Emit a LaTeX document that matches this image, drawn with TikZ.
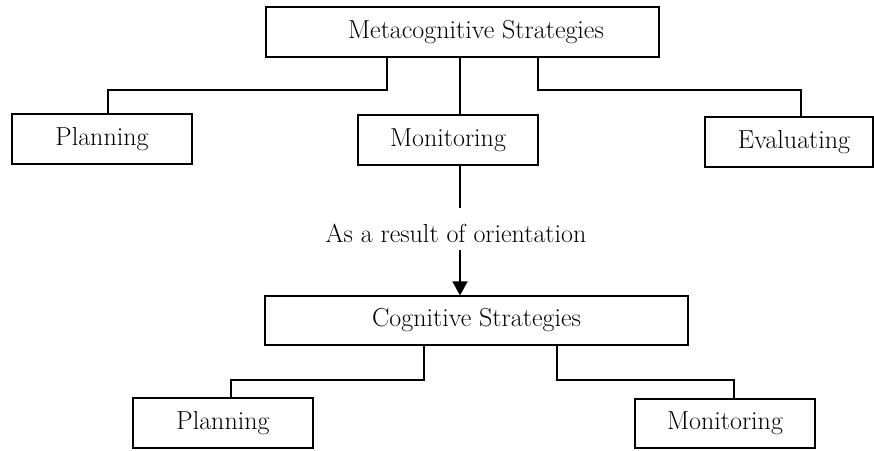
\documentclass[tikz,border=0pt]{standalone}
\usetikzlibrary{arrows.meta,calc}
\begin{document}
\begin{tikzpicture}[x=1pt,y=-1pt,
  box/.style={draw,line width=1.2pt,inner sep=0pt,minimum height=50pt,
    font=\fontsize{26}{30}\selectfont},
  conn/.style={line width=1.8pt},
  arr/.style={line width=1.8pt,-{Triangle[width=15pt,length=14pt]}},
  lbl/.style={font=\fontsize{26}{30}\selectfont,inner sep=0pt}]
\useasboundingbox (0,0) rectangle (874,450);

% upper level
\node[box,minimum width=393pt,
  label={[lbl,xshift=13.5pt]center:Metacognitive Strategies}] (meta) at (462.5,32) {};
\node[box,minimum width=180pt] (plan1) at (102,139) {Planning};
\node[box,minimum width=180pt] (mon1) at (448,140) {Monitoring};
\node[box,minimum width=168pt,
  label={[lbl,xshift=5pt]center:Evaluating}] (eval) at (789,142) {};

% lower level
\node[box,minimum width=423pt,minimum height=49pt] (cog) at (476.5,320.5) {Cognitive Strategies};
\node[box,minimum width=180pt] (plan2) at (223,423) {Planning};
\node[box,minimum width=180pt,minimum height=49pt] (mon2) at (725,423.5) {Monitoring};

\node[lbl] (orient) at (456,233) {As a result of orientation};

% branches from the upper box
\draw[conn] ([xshift=-75.5pt]meta.south) -- ++(0,32) -| ([xshift=6pt]plan1.north);
\draw[conn] ([xshift=-2.5pt]meta.south) -- ([xshift=12pt]mon1.north);
\draw[conn] ([xshift=75.5pt]meta.south) -- ++(0,32) -| ([xshift=12pt]eval.north);

% link between the two levels
\coordinate (gap1) at (460,208);
\coordinate (gap2) at (460,250);
\draw[conn] ([xshift=12pt]mon1.south) -- (gap1);
\draw[arr] (gap2) -- (gap2 |- cog.north);

% branches from the lower box
\draw[conn] ([xshift=-52.5pt]cog.south) -- ++(0,34) -| ([xshift=8pt]plan2.north);
\draw[conn] ([xshift=80.5pt]cog.south) -- ++(0,34) -| ([xshift=9pt]mon2.north);
\end{tikzpicture}
\end{document}
